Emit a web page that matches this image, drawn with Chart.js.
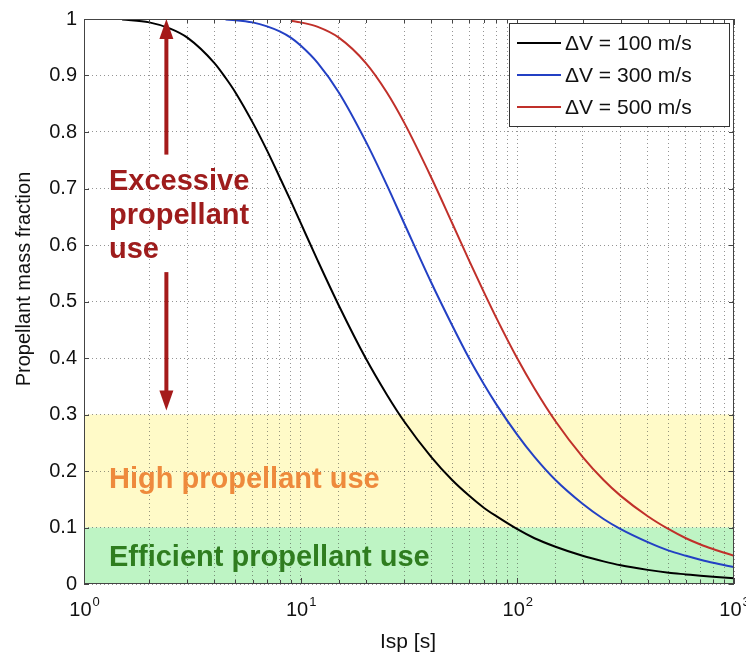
<!DOCTYPE html>
<html>
<head>
<meta charset="utf-8">
<script src="https://cdn.jsdelivr.net/npm/chart.js@4/dist/chart.umd.min.js"></script>
<style>
  body { margin: 0; background: #fff; }
  canvas { display: block; }
</style>
</head>
<body>
<canvas id="fractionChart" width="746" height="655"></canvas>
<script>
// Isp values [s] (x axis, log)
const ispValues = [1, 1.5, 2, 2.5, 3, 4, 4.5, 5, 6, 7, 8, 9, 10, 12, 15, 20, 25, 30, 40, 50,
    60, 70, 80, 100, 120, 150, 200, 250, 300, 400, 500, 600, 700, 800, 1000];

// Propellant mass fraction
const fraction100 = [null, 0.999, 0.994, 0.983, 0.967, 0.922, 0.896, 0.870, 0.817, 0.767, 0.720, 0.678,
    0.639, 0.572, 0.493, 0.399, 0.335, 0.288, 0.225, 0.184, 0.156, 0.135, 0.120, 0.097, 0.081,
    0.066, 0.050, 0.040, 0.033, 0.025, 0.020, 0.017, 0.0145, 0.0127, 0.010];
const fraction300 = [null, null, null, null, null, null, 0.999, 0.998, 0.994, 0.987, 0.978, 0.967,
    0.953, 0.922, 0.870, 0.783, 0.706, 0.639, 0.534, 0.458, 0.399, 0.354, 0.318, 0.264, 0.225,
    0.184, 0.142, 0.115, 0.097, 0.074, 0.059, 0.050, 0.043, 0.0375, 0.030];
const fraction500 = [null, null, null, null, null, null, null, null, null, null, null, 0.997,
    0.994, 0.986, 0.967, 0.922, 0.870, 0.817, 0.720, 0.639, 0.572, 0.517, 0.471, 0.399, 0.346,
    0.288, 0.225, 0.184, 0.156, 0.120, 0.097, 0.081, 0.070, 0.062, 0.050];

const seriesLabels = ['\u0394V = 100 m/s', '\u0394V = 300 m/s', '\u0394V = 500 m/s'];
const seriesColors = ['#000000', '#2340c4', '#c0302a'];

// Shaded zones [from, to]
const highZone = [0.1, 0.3];
const efficientZone = [0, 0.1];

const xDecades = [1, 10, 100, 1000];
const yTicks = [0, 0.1, 0.2, 0.3, 0.4, 0.5, 0.6, 0.7, 0.8, 0.9, 1];

const FONT = '"Liberation Sans", Arial, sans-serif';

function toPoints(values) {
    return ispValues.map((x, i) => ({ x: x, y: values[i] }));
}

// Background, zones, frame, annotations, legend
const decorPlugin = {
    id: 'decor',
    beforeDraw(chart) {
        const { ctx, chartArea: a, scales: { y } } = chart;
        ctx.save();
        ctx.fillStyle = '#ffffff';
        ctx.fillRect(0, 0, chart.width, chart.height);
        ctx.fillStyle = 'rgb(255, 250, 200)';
        ctx.fillRect(a.left, y.getPixelForValue(highZone[1]), a.right - a.left,
            y.getPixelForValue(highZone[0]) - y.getPixelForValue(highZone[1]));
        ctx.fillStyle = 'rgb(190, 244, 196)';
        ctx.fillRect(a.left, y.getPixelForValue(efficientZone[1]), a.right - a.left,
            y.getPixelForValue(efficientZone[0]) - y.getPixelForValue(efficientZone[1]));
        ctx.restore();
    },
    afterDatasetsDraw(chart) {
        const { ctx, chartArea: a, scales: { x, y } } = chart;
        ctx.save();

        // frame
        ctx.strokeStyle = '#444';
        ctx.lineWidth = 1;
        ctx.strokeRect(a.left + 0.5, a.top + 0.5, a.right - a.left - 1, a.bottom - a.top - 1);

        // inside tick marks
        ctx.beginPath();
        yTicks.forEach(v => {
            const py = Math.round(y.getPixelForValue(v)) + 0.5;
            ctx.moveTo(a.left, py); ctx.lineTo(a.left + 5, py);
            ctx.moveTo(a.right, py); ctx.lineTo(a.right - 5, py);
        });
        x.ticks.forEach(t => {
            const px = Math.round(x.getPixelForValue(t.value)) + 0.5;
            const len = xDecades.includes(t.value) ? 6 : 4;
            ctx.moveTo(px, a.bottom); ctx.lineTo(px, a.bottom - len);
            ctx.moveTo(px, a.top); ctx.lineTo(px, a.top + len);
        });
        ctx.stroke();

        // arrows
        const arrowX = x.getPixelForValue(2.4);
        ctx.strokeStyle = '#a51a1a';
        ctx.fillStyle = '#a51a1a';
        ctx.lineWidth = 4;
        const arrow = (y0, y1) => {
            const dir = y1 > y0 ? 1 : -1;
            ctx.beginPath();
            ctx.moveTo(arrowX, y0);
            ctx.lineTo(arrowX, y1 - dir * 16);
            ctx.stroke();
            ctx.beginPath();
            ctx.moveTo(arrowX, y1);
            ctx.lineTo(arrowX - 7, y1 - dir * 20);
            ctx.lineTo(arrowX + 7, y1 - dir * 20);
            ctx.closePath();
            ctx.fill();
        };
        arrow(y.getPixelForValue(0.76), y.getPixelForValue(1));
        arrow(y.getPixelForValue(0.552), y.getPixelForValue(0.307));

        // zone texts
        ctx.font = 'bold 29px ' + FONT;
        ctx.textAlign = 'left';
        ctx.textBaseline = 'alphabetic';
        ctx.fillStyle = '#9e1c1c';
        ctx.fillText('Excessive', 109, 190);
        ctx.fillText('propellant', 109, 224);
        ctx.fillText('use', 109, 258);
        ctx.fillStyle = '#ee8a3c';
        ctx.fillText('High propellant use', 109, 488);
        ctx.fillStyle = '#2f7d1f';
        ctx.fillText('Efficient propellant use', 109, 566);

        ctx.restore();
    },
    afterDraw(chart) {
        const { ctx, scales: { x } } = chart;
        ctx.save();

        // x tick labels 10^n
        ctx.fillStyle = '#111';
        ctx.textBaseline = 'alphabetic';
        ctx.textAlign = 'left';
        xDecades.forEach((v, i) => {
            const px = x.getPixelForValue(v);
            ctx.font = '20px ' + FONT;
            const w1 = ctx.measureText('10').width;
            ctx.font = '13px ' + FONT;
            const w2 = ctx.measureText(String(i)).width;
            const left = px - (w1 + w2) / 2;
            ctx.font = '20px ' + FONT;
            ctx.fillText('10', left, 616);
            ctx.font = '13px ' + FONT;
            ctx.fillText(String(i), left + w1 + 1, 606);
        });

        // axis titles
        ctx.font = '21px ' + FONT;
        ctx.textAlign = 'center';
        ctx.textBaseline = 'middle';
        ctx.fillText('Isp [s]', 408, 642);
        ctx.save();
        ctx.translate(24, 279);
        ctx.rotate(-Math.PI / 2);
        ctx.font = '20px ' + FONT;
        ctx.fillText('Propellant mass fraction', 0, 0);
        ctx.restore();

        // legend box
        const bx = 509, by = 23, bw = 220, bh = 103;
        ctx.fillStyle = '#ffffff';
        ctx.fillRect(bx, by, bw, bh);
        ctx.strokeStyle = '#333';
        ctx.lineWidth = 1;
        ctx.strokeRect(bx + 0.5, by + 0.5, bw, bh);
        ctx.font = '21px ' + FONT;
        ctx.textAlign = 'left';
        ctx.textBaseline = 'middle';
        seriesLabels.forEach((label, i) => {
            const ly = 43 + i * 32;
            ctx.strokeStyle = seriesColors[i];
            ctx.lineWidth = 2;
            ctx.beginPath();
            ctx.moveTo(517, ly);
            ctx.lineTo(561, ly);
            ctx.stroke();
            ctx.fillStyle = '#111';
            ctx.fillText(label, 565, ly + 1);
        });

        ctx.restore();
    }
};

const chart = new Chart(document.getElementById('fractionChart'), {
    type: 'line',
    data: {
        datasets: [fraction100, fraction300, fraction500].map((values, i) => ({
            label: seriesLabels[i],
            data: toPoints(values),
            borderColor: seriesColors[i],
            borderWidth: 2,
            pointRadius: 0,
            fill: false,
            cubicInterpolationMode: 'monotone'
        }))
    },
    options: {
        responsive: false,
        animation: false,
        layout: { padding: { top: 17, right: 12, bottom: 0, left: 0 } },
        plugins: {
            legend: { display: false },
            tooltip: { enabled: false }
        },
        scales: {
            x: {
                type: 'logarithmic',
                min: 1,
                max: 1000,
                ticks: { display: false },
                grid: { color: 'rgba(60, 60, 60, 0.55)', lineWidth: 1, drawTicks: false },
                border: { display: false, dash: [1, 3] },
                afterFit(scale) { scale.height = 71; }
            },
            y: {
                min: 0,
                max: 1,
                ticks: {
                    stepSize: 0.1,
                    padding: 7,
                    color: '#111',
                    font: { family: FONT, size: 20 },
                    callback: v => (v === 0 ? '0' : (Math.abs(v - 1) < 1e-9 ? '1' : v.toFixed(1)))
                },
                grid: { color: 'rgba(60, 60, 60, 0.55)', lineWidth: 1, drawTicks: false },
                border: { display: false, dash: [1, 3] },
                afterFit(scale) { scale.width = 84; }
            }
        }
    },
    plugins: [decorPlugin]
});
</script>
</body>
</html>
